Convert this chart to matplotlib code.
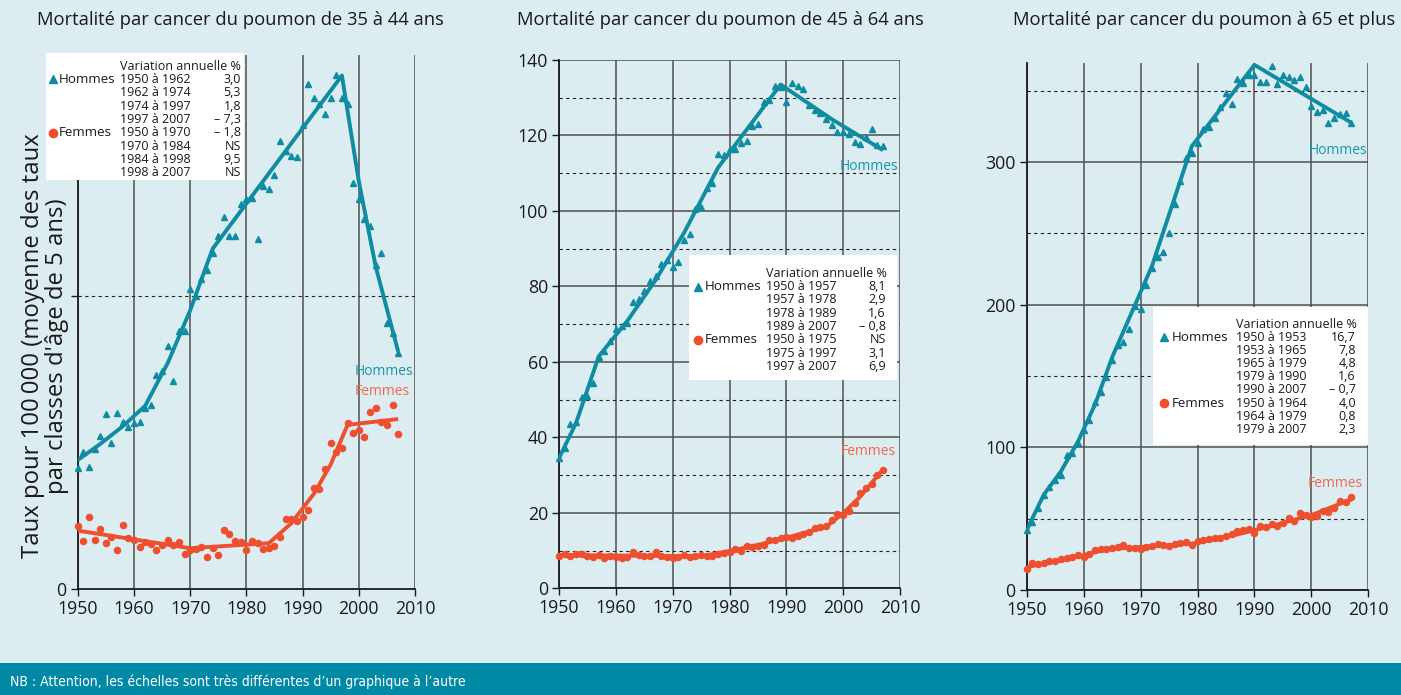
import numpy as np
import matplotlib
matplotlib.use('Agg')
import matplotlib.pyplot as plt
from matplotlib.patches import Rectangle
from matplotlib.lines import Line2D
from matplotlib.ticker import MultipleLocator

plt.rcParams['font.family'] = ['Open Sans', 'DejaVu Sans']

# Colours
BG = '#dcedf2'
TEAL = '#0f8ca2'
TEAL_TXT = '#1497ad'
RED = '#ee4f2e'
RED_TXT = '#f0694c'
GRID = '#505050'
BANNER = '#0089a4'

years = np.arange(1950, 2008)
decades = [1950, 1960, 1970, 1980, 1990, 2000, 2010]

# 35-44 ans
hommes_35 = [4.12, 4.69, 4.18, 4.77, 5.22, 5.96, 4.99, 5.99, 5.71, 5.52,
             5.65, 5.69, 6.16, 6.28, 7.30, 7.44, 8.29, 7.09, 8.81, 8.81,
             10.22, 10.0, 10.56, 10.88, 11.46, 12.03, 12.67, 12.03, 12.03, 13.11,
             13.28, 13.32, 11.93, 13.74, 13.62, 14.11, 15.28, 14.94, 14.76, 14.71,
             15.81, 17.20, 16.74, 16.52, 16.19, 16.74, 17.52, 16.72, 16.53, 13.85,
             13.3, 12.60, 12.37, 11.05, 11.46, 9.06, 8.74, 8.04]
femmes_35 = [2.17, 1.66, 2.45, 1.68, 2.05, 1.57, 1.79, 1.33, 2.2, 1.75,
             1.68, 1.44, 1.62, 1.53, 1.33, 1.51, 1.67, 1.5, 1.62, 1.19,
             1.34, 1.37, 1.43, 1.11, 1.41, 1.16, 2.02, 1.87, 1.63, 1.6,
             1.34, 1.64, 1.57, 1.36, 1.4, 1.47, 1.79, 2.38, 2.38, 2.32,
             2.47, 2.69, 3.45, 3.43, 4.09, 4.97, 4.67, 4.8, 5.65, 5.31,
             5.43, 5.2, 6.03, 6.19, 5.71, 5.59, 6.28, 5.29]
hommes_35_fit_x = [1950, 1954, 1958, 1962, 1966, 1970, 1974, 1997, 2000, 2003, 2007]
hommes_35_fit_y = [4.4, 4.95, 5.55, 6.25, 7.7, 9.5, 11.6, 17.5, 13.9, 11.0, 8.1]
femmes_35_fit_x = [1950, 1960, 1970, 1984, 1988, 1992, 1995, 1998, 2007]
femmes_35_fit_y = [2.0, 1.7, 1.4, 1.57, 2.25, 3.25, 4.25, 5.6, 5.8]

# 45-64 ans
hommes_45 = [34.6, 37.1, 43.5, 44.0, 50.6, 51.0, 54.3, 61.3, 62.8, 65.5,
             68.7, 69.5, 70.3, 76.0, 76.6, 78.7, 81.4, 82.7, 86.0, 87.1,
             85.2, 86.6, 92.3, 93.8, 100.4, 101.0, 106.0, 107.5, 115.2, 114.8,
             116.5, 116.5, 118.0, 118.6, 122.5, 123.1, 128.8, 129.5, 133.2, 132.8,
             128.8, 134.0, 133.1, 132.2, 128.0, 126.7, 126.0, 124.3, 122.8, 120.9,
             120.9, 120.5, 118.3, 117.8, 119.6, 121.6, 117.4, 117.2]
femmes_45 = [8.6, 9.1, 8.6, 9.2, 9.0, 8.6, 8.3, 8.9, 7.9, 8.6,
             8.4, 8.1, 8.4, 9.6, 8.8, 8.6, 8.6, 9.5, 8.6, 8.4,
             8.0, 8.4, 8.8, 8.2, 8.6, 8.9, 8.6, 8.6, 9.2, 9.4,
             9.7, 10.3, 9.8, 11.2, 11.0, 11.3, 11.6, 12.9, 12.9, 13.2,
             13.6, 13.2, 13.8, 14.3, 14.9, 16.0, 16.3, 16.5, 18.0, 19.6,
             19.3, 20.4, 22.6, 25.2, 26.6, 27.7, 30.1, 31.4]
hommes_45_fit_x = [1950, 1953, 1957, 1962, 1967, 1972, 1978, 1989, 1998, 2007]
hommes_45_fit_y = [34.5, 43.8, 61.5, 70.8, 81.7, 94.2, 111.5, 133.5, 124.3, 116.1]
femmes_45_fit_x = [1950, 1975, 1980, 1985, 1990, 1997, 2000, 2003, 2007]
femmes_45_fit_y = [8.8, 8.5, 9.9, 11.5, 13.4, 16.3, 19.9, 24.3, 31.5]

# 65 ans et plus
hommes_65 = [42.0, 47.9, 57.2, 66.6, 72.4, 77.1, 80.6, 94.6, 95.8, 102.8,
             112.1, 119.2, 132.0, 139.0, 149.5, 161.2, 171.7, 174.1, 182.7, 199.0,
             196.7, 213.7, 225.4, 233.2, 237.1, 250.0, 270.5, 286.8, 302.5, 306.5,
             313.0, 322.9, 324.7, 330.5, 338.7, 348.5, 340.3, 358.1, 355.5, 360.9,
             360.9, 356.2, 356.2, 367.2, 354.4, 360.9, 359.3, 357.4, 359.3, 352.7,
             339.2, 334.8, 336.4, 327.0, 330.5, 333.6, 334.5, 327.5]
femmes_65 = [14.5, 18.7, 18.2, 19.2, 20.6, 20.6, 21.5, 22.4, 23.4, 24.8,
             23.4, 25.2, 28.0, 28.7, 29.0, 29.2, 29.9, 31.5, 29.2, 29.4,
             29.0, 29.9, 30.8, 32.2, 31.5, 30.8, 32.2, 32.7, 33.9, 31.3,
             34.6, 35.0, 35.5, 36.2, 36.2, 37.9, 39.3, 41.1, 42.1, 42.5,
             40.2, 44.9, 44.4, 46.3, 44.9, 47.2, 50.5, 48.1, 54.2, 52.3,
             50.9, 51.9, 55.6, 54.9, 57.2, 62.6, 61.9, 65.0]
hommes_65_fit_x = [1950, 1953, 1956, 1959, 1962, 1965, 1972, 1979, 1990, 2007]
hommes_65_fit_y = [42, 66.8, 83, 104, 130, 163, 227, 311, 368, 327.5]
femmes_65_fit_x = [1950, 1957, 1964, 1979, 1986, 1993, 2000, 2007]
femmes_65_fit_y = [16.0, 21.5, 28.5, 32.5, 38, 44.8, 52.5, 63.5]

# Legend tables
periodes_35 = ['1950 à 1962', '1962 à 1974', '1974 à 1997', '1997 à 2007',
               '1950 à 1970', '1970 à 1984', '1984 à 1998', '1998 à 2007']
variations_35 = ['3,0', '5,3', '1,8', '– 7,3', '– 1,8', 'NS', '9,5', 'NS']
periodes_45 = ['1950 à 1957', '1957 à 1978', '1978 à 1989', '1989 à 2007',
               '1950 à 1975', '1975 à 1997', '1997 à 2007']
variations_45 = ['8,1', '2,9', '1,6', '– 0,8', 'NS', '3,1', '6,9']
periodes_65 = ['1950 à 1953', '1953 à 1965', '1965 à 1979', '1979 à 1990',
               '1990 à 2007', '1950 à 1964', '1964 à 1979', '1979 à 2007']
variations_65 = ['16,7', '7,8', '4,8', '1,6', '– 0,7', '4,0', '0,8', '2,3']

W, H = 1401, 695
fig = plt.figure(figsize=(W / 100, H / 100), dpi=100, facecolor=BG)


def fx(x):
    return x / W


def fy(y):
    return 1 - y / H


def add_axes_px(left, top, right, bottom):
    return fig.add_axes([fx(left), fy(bottom), (right - left) / W, (bottom - top) / H])


def draw_panel(ax, men, women, men_fit, women_fit, ymax):
    ax.set_facecolor('none')
    ax.set_xlim(1950, 2010)
    ax.set_ylim(0, ymax)
    ax.set_xticks(decades)
    ax.set_axisbelow(True)
    ax.grid(axis='x', color=GRID, lw=1.1)
    for side in ['top', 'right']:
        ax.spines[side].set_visible(False)
    for side in ['left', 'bottom']:
        ax.spines[side].set_linewidth(1.3)
        ax.spines[side].set_color('#1a1a1a')
    ax.tick_params(axis='both', which='major', direction='out', length=5, width=1,
                   labelsize=12.8, pad=3, colors='#1a1a1a')
    ax.tick_params(axis='y', which='minor', length=0)

    # fitted trends
    ax.plot(men_fit[0], men_fit[1], color=TEAL, lw=2.8, zorder=3, solid_capstyle='butt')
    ax.plot(women_fit[0], women_fit[1], color=RED, lw=2.8, zorder=3, solid_capstyle='butt')
    # yearly rates
    ax.plot(years, men, ls='none', marker='^', ms=4.8, color=TEAL, zorder=4, clip_on=False)
    ax.plot(years, women, ls='none', marker='o', ms=4.4, color=RED, zorder=4, clip_on=False)


def draw_legend(box, marker_x, name_x, period_x, value_x, header_y, row_h,
                periodes, variations, n_men):
    left, top, right, bottom = box
    fig.patches.append(Rectangle((fx(left), fy(bottom)), (right - left) / W, (bottom - top) / H,
                                 transform=fig.transFigure, facecolor='white',
                                 edgecolor='none', zorder=5))
    fs = 9.0
    fig.text(fx(period_x), fy(header_y), 'Variation annuelle %', fontsize=fs,
             ha='left', va='center', color='#1a1a1a', zorder=6)
    for i, (p, v) in enumerate(zip(periodes, variations)):
        y = header_y + row_h * (i + 1)
        fig.text(fx(period_x), fy(y), p, fontsize=fs, ha='left', va='center',
                 color='#1a1a1a', zorder=6)
        fig.text(fx(value_x), fy(y), v, fontsize=fs, ha='right', va='center',
                 color='#1a1a1a', zorder=6)
    y_men = header_y + row_h
    y_women = header_y + row_h * (n_men + 1)
    fig.add_artist(Line2D([fx(marker_x)], [fy(y_men)], marker='^', ms=6, color=TEAL,
                          transform=fig.transFigure, zorder=6))
    fig.add_artist(Line2D([fx(marker_x)], [fy(y_women)], marker='o', ms=6, color=RED,
                          transform=fig.transFigure, zorder=6))
    fig.text(fx(name_x), fy(y_men), 'Hommes', fontsize=9.6, ha='left', va='center',
             color='#1a1a1a', zorder=6)
    fig.text(fx(name_x), fy(y_women), 'Femmes', fontsize=9.6, ha='left', va='center',
             color='#1a1a1a', zorder=6)


# Panel 1 : 35-44 ans
ax1 = add_axes_px(77.7, 55, 415, 589.3)
draw_panel(ax1, hommes_35, femmes_35, (hommes_35_fit_x, hommes_35_fit_y),
           (femmes_35_fit_x, femmes_35_fit_y), 18.2)
ax1.set_yticks([0, 10], ['0', ''])
ax1.axhline(10, color='#222222', lw=0.8, ls=(0, (3, 3)), zorder=1)
ax1.text(2009.6, 7.41, 'Hommes', color=TEAL_TXT, fontsize=10, ha='right', va='center')
ax1.text(2009.1, 6.73, 'Femmes', color=RED_TXT, fontsize=10, ha='right', va='center')

# Panel 2 : 45-64 ans
ax2 = add_axes_px(559, 60, 900, 588.3)
draw_panel(ax2, hommes_45, femmes_45, (hommes_45_fit_x, hommes_45_fit_y),
           (femmes_45_fit_x, femmes_45_fit_y), 140)
ax2.yaxis.set_major_locator(MultipleLocator(20))
ax2.yaxis.set_minor_locator(MultipleLocator(10))
ax2.grid(axis='y', which='major', color=GRID, lw=1.1)
ax2.grid(axis='y', which='minor', color='#222222', lw=0.8, ls=(0, (3, 3)))
ax2.text(2009.65, 111.7, 'Hommes', color=TEAL_TXT, fontsize=10, ha='right', va='center')
ax2.text(2009.3, 36.3, 'Femmes', color=RED_TXT, fontsize=10, ha='right', va='center')

# Panel 3 : 65 ans et plus
ax3 = add_axes_px(1026.7, 63, 1368.3, 590)
draw_panel(ax3, hommes_65, femmes_65, (hommes_65_fit_x, hommes_65_fit_y),
           (femmes_65_fit_x, femmes_65_fit_y), 369.3)
ax3.yaxis.set_major_locator(MultipleLocator(100))
ax3.yaxis.set_minor_locator(MultipleLocator(50))
ax3.grid(axis='y', which='major', color=GRID, lw=1.1)
ax3.grid(axis='y', which='minor', color='#222222', lw=0.8, ls=(0, (3, 3)))
ax3.text(2009.8, 308.3, 'Hommes', color=TEAL_TXT, fontsize=10, ha='right', va='center')
ax3.text(2009.1, 74.3, 'Femmes', color=RED_TXT, fontsize=10, ha='right', va='center')

# Legend tables
draw_legend((46, 53, 244, 180), 52.5, 59, 120, 241, 66, 13.35, periodes_35, variations_35, 4)
draw_legend((689, 255, 897, 380), 697.5, 705, 766, 886, 273.3, 13.3, periodes_45, variations_45, 4)
draw_legend((1153, 307, 1368, 445), 1164, 1172, 1236, 1356, 324, 13.2, periodes_65, variations_65, 5)

# Titles
title_kw = dict(fontsize=13.2, ha='left', va='center', color='#1a1a1a')
fig.text(fx(37), fy(20), 'Mortalité par cancer du poumon de 35 à 44 ans', **title_kw)
fig.text(fx(517), fy(20), 'Mortalité par cancer du poumon de 45 à 64 ans', **title_kw)
fig.text(fx(1013), fy(20), 'Mortalité par cancer du poumon à 65 et plus', **title_kw)

# Y label
fig.text(fx(45), fy(346), 'Taux pour 100\u2009000 (moyenne des taux\npar classes d\'âge de 5 ans)',
         rotation=90, ha='center', va='center', multialignment='center',
         fontsize=17.2, linespacing=0.98, color='#1a1a1a')

# Bottom banner
fig.patches.append(Rectangle((0, 0), 1, fy(663), transform=fig.transFigure,
                             facecolor=BANNER, edgecolor='none', zorder=0))
fig.text(fx(10), fy(682), 'NB : Attention, les échelles sont très différentes d\u2019un graphique à l\u2019autre',
         fontsize=10, ha='left', va='center', color='white', fontstretch='condensed',
         family=['Liberation Sans Narrow', 'DejaVu Sans'])

fig.savefig('out.png', dpi=100, facecolor=BG)
